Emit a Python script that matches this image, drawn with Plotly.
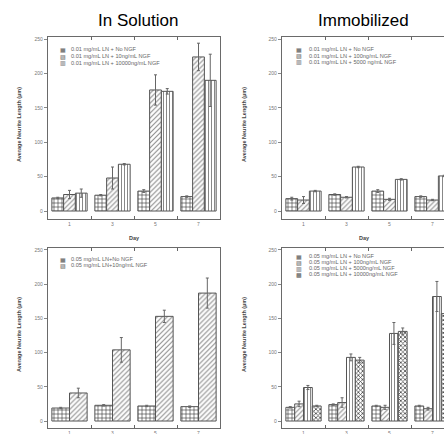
import plotly.graph_objects as go

# Layout positions are measured in pixels of the 444x434 reference canvas.
W, H = 444, 434

days = ["1", "3", "5", "7"]

# Top-left: In Solution, 0.01 mg/mL LN
sol01_names = ["0.01 mg/mL LN + No NGF", "0.01 mg/mL LN + 10ng/mL NGF", "0.01 mg/mL LN + 10000ng/mL NGF"]
sol01_vals = [[19, 23, 29, 21], [24, 48, 176, 224], [26, 68, 174, 190]]
sol01_errs = [[1, 1, 2, 1], [6, 16, 22, 20], [6, 1, 4, 38]]

# Top-right: Immobilized, 0.01 mg/mL LN
imm01_names = ["0.01 mg/mL LN + No NGF", "0.01 mg/mL LN + 100ng/mL NGF", "0.01 mg/mL LN + 5000 ng/mL NGF"]
imm01_vals = [[18, 24, 29, 21], [16, 20, 17, 16], [29, 64, 46, 51]]
imm01_errs = [[2, 1, 2, 1], [5, 1, 1.5, 1], [1, 1, 1, 1]]

# Bottom-left: In Solution, 0.05 mg/mL LN
sol05_names = ["0.05 mg/mL LN+No NGF", "0.05 mg/mL LN+10ng/mL NGF"]
sol05_vals = [[19, 23, 22, 21], [41, 104, 153, 187]]
sol05_errs = [[1, 1, 1, 1], [7, 18, 9, 22]]

# Bottom-right: Immobilized, 0.05 mg/mL LN
imm05_names = ["0.05 mg/mL LN + No NGF", "0.05 mg/mL LN + 100ng/mL NGF",
               "0.05 mg/mL LN + 5000ng/mL NGF", "0.05 mg/mL LN + 10000ng/mL NGF"]
imm05_vals = [[20, 24, 22, 22], [25, 27, 20, 18], [49, 93, 128, 182], [22, 89, 131, 157]]
imm05_errs = [[1, 1, 1, 1], [4, 7, 3, 2], [3, 5, 16, 22], [1, 4, 5, 5]]

y_ticks = [0, 50, 100, 150, 200, 250]

patterns = [
    dict(shape="+", size=4, solidity=0.28, fgcolor="#333333", bgcolor="white"),
    dict(shape="/", size=3.5, solidity=0.3, fgcolor="#8a8a8a", bgcolor="white"),
    dict(shape="|", size=3, solidity=0.3, fgcolor="#7a7a7a", bgcolor="white"),
    dict(shape="x", size=3, solidity=0.45, fgcolor="#444444", bgcolor="white"),
]
glyphs = ["▦", "▨", "▥", "▩"]

fig = go.Figure()

panels = [
    ("x", "y", sol01_names, sol01_vals, sol01_errs),
    ("x2", "y2", imm01_names, imm01_vals, imm01_errs),
    ("x3", "y3", sol05_names, sol05_vals, sol05_errs),
    ("x4", "y4", imm05_names, imm05_vals, imm05_errs),
]
for xa, ya, names, vals, errs in panels:
    for i, (nm, v, e) in enumerate(zip(names, vals, errs)):
        fig.add_trace(go.Bar(
            x=days, y=v, name=nm, xaxis=xa, yaxis=ya, showlegend=False,
            marker=dict(color="white", line=dict(color="#555555", width=1), pattern=patterns[i]),
            error_y=dict(type="data", array=e, color="#666666", thickness=1, width=1.5),
        ))

def fx(x):
    return x / W

def fy(y):
    return 1 - y / H

ax_common = dict(showline=True, linecolor="#6a6a6a", linewidth=1.3, showgrid=False, zeroline=False,
                 automargin=False)
xax = dict(ax_common, type="category", tickson="boundaries", ticks="inside", ticklen=3,
           tickcolor="#666666", mirror="ticks", tickfont=dict(size=5, color="#777777", family="Liberation Sans"))
yax = dict(ax_common, tickvals=y_ticks, ticks="outside", ticklen=3, tickcolor="#888888",
           tickfont=dict(size=5, color="#777777", family="Liberation Sans"))

top_dom = [fy(219), fy(37)]
bot_dom = [fy(428), fy(248)]
left_dom = [fx(48), fx(220)]
right_dom = [fx(282), 1.0]
right_range = [-0.5, -0.5 + (W - 282) / 43.0]

fig.update_layout(
    xaxis=dict(xax, domain=left_dom, anchor="y", range=[-0.5, 3.5]),
    yaxis=dict(yax, domain=top_dom, anchor="x", range=[-11.6, 253], mirror=True),
    xaxis2=dict(xax, domain=right_dom, anchor="y2", range=right_range),
    yaxis2=dict(yax, domain=top_dom, anchor="x2", range=[-11.6, 253]),
    xaxis3=dict(xax, domain=left_dom, anchor="y3", range=[-0.5, 3.5]),
    yaxis3=dict(yax, domain=bot_dom, anchor="x3", range=[-10.2, 252.9], mirror=True),
    xaxis4=dict(xax, domain=right_dom, anchor="y4", range=right_range),
    yaxis4=dict(yax, domain=bot_dom, anchor="x4", range=[-10.2, 252.9]),
)

annotations = []
def ann(text, x, y, size, color="#444444", xanchor="center", angle=0, family="Liberation Sans"):
    annotations.append(dict(text=text, x=fx(x), y=fy(y), xref="paper", yref="paper",
                            showarrow=False, xanchor=xanchor, yanchor="middle",
                            textangle=angle, font=dict(size=size, color=color, family=family)))

ann("In Solution", 138, 20, 17, color="black")
ann("Immobilized", 363, 20, 17, color="black")

ylab = "<b>Average Neurite Length (µm)</b>"
ann(ylab, 19, 125, 5.5, angle=-90)
ann(ylab, 244, 125, 5.5, angle=-90)
ann(ylab, 19, 335, 5.5, angle=-90)
ann(ylab, 244, 335, 5.5, angle=-90)
ann("<b>Day</b>", 134, 238, 5.5)
ann("<b>Day</b>", 364, 238, 5.5)

legend_specs = [
    (sol01_names, 63, 69, [49, 56, 63]),
    (imm01_names, 299, 307, [49, 55.5, 62]),
    (sol05_names, 63, 69, [259, 265]),
    (imm05_names, 299, 307, [256, 262, 268, 274]),
]
for names, sx, tx, ys in legend_specs:
    for i, (nm, yy) in enumerate(zip(names, ys)):
        ann(glyphs[i], sx, yy, 6, color="#555555", family="DejaVu Sans")
        ann(nm, tx, yy, 5.6, color="#666666", xanchor="left")

fig.update_layout(
    template="none",
    width=W, height=H,
    margin=dict(l=0, r=0, t=0, b=0),
    paper_bgcolor="white", plot_bgcolor="white",
    barmode="group", bargap=0.18, bargroupgap=0,
    showlegend=False,
    annotations=annotations,
)

# remove the default 8px page margin so the 444x434 figure fills the window exactly
fig.write_html("out.html",
               config={"displayModeBar": False},
               post_script="document.body.style.margin='0';document.body.style.overflow='hidden';")
